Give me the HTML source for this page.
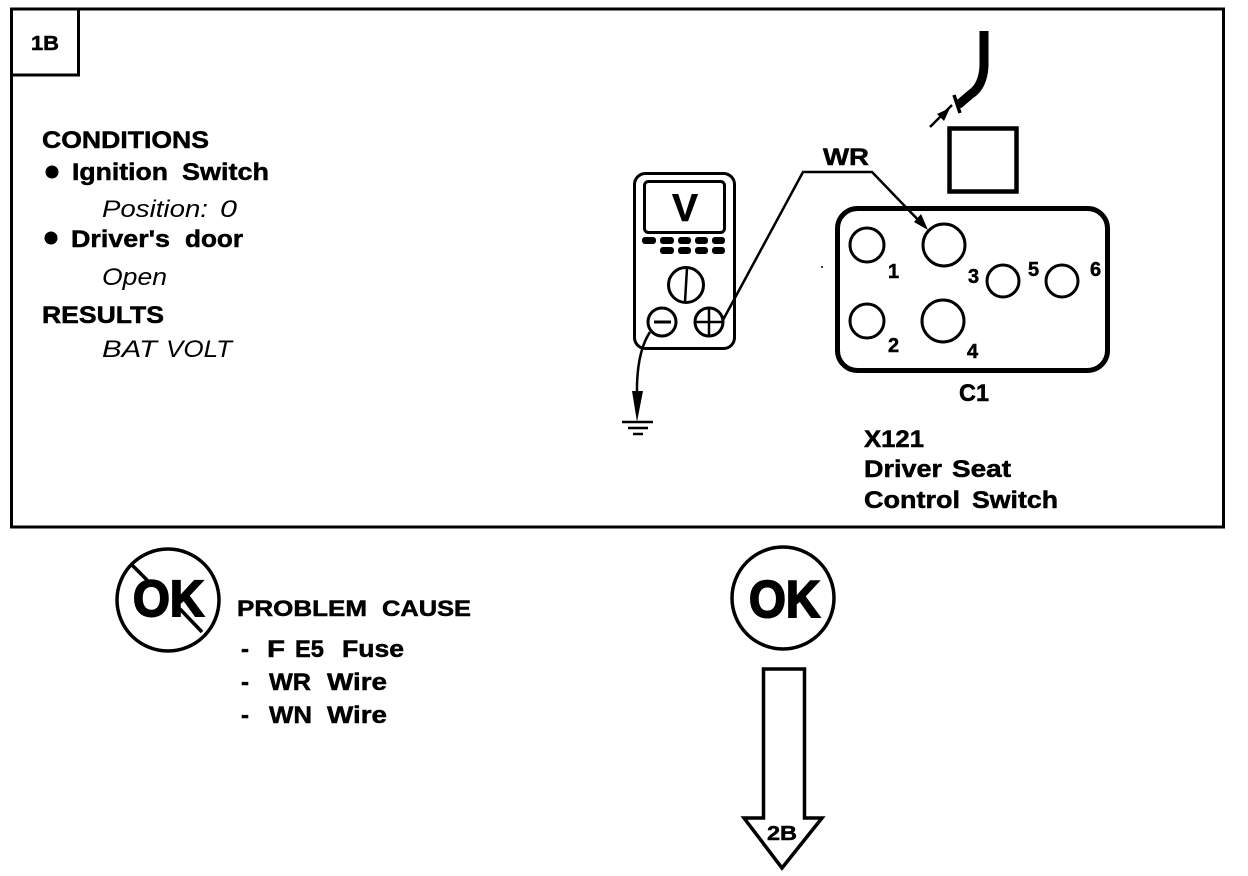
<!DOCTYPE html>
<html><head><meta charset="utf-8"><style>
html,body{margin:0;padding:0;background:#fff}
svg{display:block}
text{font-family:"Liberation Sans",sans-serif;fill:#000}
.b{font-weight:bold;stroke:#000;stroke-width:.5px}
.i{font-style:italic}
</style></head><body>
<svg width="1248" height="876" viewBox="0 0 1248 876" xmlns="http://www.w3.org/2000/svg">
<rect width="1248" height="876" fill="#fff"/>
<g fill="none" stroke="#000">
<rect x="11.5" y="9" width="1212" height="518" stroke-width="3"/>
<rect x="11.5" y="9" width="67" height="66" stroke-width="3"/>
<!-- meter -->
<rect x="634.5" y="173.5" width="100" height="175" rx="11" stroke-width="3"/>
<rect x="644.5" y="181.5" width="80" height="51" rx="4" stroke-width="3"/>
<circle cx="686" cy="285" r="17.5" stroke-width="3"/>
<line x1="687" y1="268" x2="685" y2="302" stroke-width="2.5"/>
<circle cx="662" cy="322" r="14" stroke-width="3"/>
<line x1="654" y1="322" x2="671" y2="322" stroke-width="3"/>
<circle cx="709" cy="322" r="14" stroke-width="3"/>
<line x1="695" y1="322" x2="723" y2="322" stroke-width="2.5"/>
<line x1="709" y1="308" x2="709" y2="336" stroke-width="2.5"/>
<!-- wires -->
<polyline points="723,320 803,172 872,172 925,227" stroke-width="2.5"/>
<path d="M650,332 Q638,350 637,385 L637,410" stroke-width="2.5"/>
<!-- connector -->
<rect x="837.5" y="208.5" width="270" height="162" rx="20" stroke-width="5"/>
<circle cx="867" cy="245" r="17" stroke-width="3"/>
<circle cx="944" cy="245" r="21" stroke-width="3"/>
<circle cx="867" cy="321" r="17" stroke-width="3"/>
<circle cx="943" cy="321" r="21" stroke-width="3"/>
<circle cx="1003" cy="281" r="16" stroke-width="3"/>
<circle cx="1062" cy="281" r="16" stroke-width="3"/>
<rect x="949.5" y="128.5" width="67" height="63" stroke-width="4.5"/>
<!-- harness -->
<path d="M984,31 L984,66 Q983,86 971,94 L958,105" stroke-width="9"/>
<line x1="930" y1="127" x2="952" y2="105" stroke-width="2.5"/>
<line x1="954" y1="95" x2="960" y2="113" stroke-width="3.5"/>
<!-- ground -->
<line x1="622" y1="422" x2="653" y2="422" stroke-width="2.5"/>
<line x1="628" y1="428" x2="648" y2="428" stroke-width="2.5"/>
<line x1="633" y1="434" x2="643" y2="434" stroke-width="2.5"/>
<!-- OK circles -->
<circle cx="168" cy="600" r="51" stroke-width="3.5"/>
<circle cx="783" cy="598" r="51" stroke-width="3.5"/>
<line x1="132" y1="565" x2="148" y2="581" stroke-width="3.5"/>
<line x1="180" y1="609" x2="202" y2="632" stroke-width="3.5"/>
<!-- big arrow -->
<polygon points="763.5,669 804.5,669 804.5,818 822,818 782,868 744,818 763.5,818" stroke-width="3.5" stroke-linejoin="miter"/>
</g>
<g fill="#000">
<polygon points="637,422 632,391 643,391"/>
<polygon points="928,230 914,222 921,214"/>
<polygon points="950,108 937,114 944,121"/>
<rect x="642" y="237" width="14" height="7" rx="3"/><rect x="660" y="237" width="14" height="7" rx="3"/><rect x="678" y="237" width="13" height="7" rx="3"/><rect x="695" y="237" width="13" height="7" rx="3"/><rect x="712" y="237" width="13" height="7" rx="3"/>
<rect x="660" y="247" width="14" height="7" rx="3"/><rect x="678" y="247" width="13" height="7" rx="3"/><rect x="695" y="247" width="13" height="7" rx="3"/><rect x="712" y="247" width="13" height="7" rx="3"/>
<circle cx="52" cy="172" r="6.5"/><circle cx="51" cy="238" r="6.5"/>
<circle cx="822" cy="267" r="1"/>
</g>
<g>
<text x="31" y="50" class="b" font-size="20" textLength="28" lengthAdjust="spacingAndGlyphs">1B</text>
<text x="42" y="148" class="b" font-size="24" textLength="167" lengthAdjust="spacingAndGlyphs">CONDITIONS</text>
<text x="72" y="180" class="b" font-size="24" textLength="96" lengthAdjust="spacingAndGlyphs">Ignition</text>
<text x="182" y="180" class="b" font-size="24" textLength="87" lengthAdjust="spacingAndGlyphs">Switch</text>
<text x="102" y="217" class="i" font-size="24" textLength="106" lengthAdjust="spacingAndGlyphs">Position:</text>
<text x="220" y="217" class="i" font-size="24" textLength="17" lengthAdjust="spacingAndGlyphs">0</text>
<text x="71" y="247" class="b" font-size="24" textLength="99" lengthAdjust="spacingAndGlyphs">Driver's</text>
<text x="185" y="247" class="b" font-size="24" textLength="58" lengthAdjust="spacingAndGlyphs">door</text>
<text x="102" y="285" class="i" font-size="24" textLength="65" lengthAdjust="spacingAndGlyphs">Open</text>
<text x="42" y="323" class="b" font-size="24" textLength="122" lengthAdjust="spacingAndGlyphs">RESULTS</text>
<text x="102" y="357" class="i" font-size="24" textLength="55" lengthAdjust="spacingAndGlyphs">BAT</text>
<text x="166" y="357" class="i" font-size="24" textLength="66" lengthAdjust="spacingAndGlyphs">VOLT</text>
<text x="672" y="221" class="b" font-size="39" stroke-width="1" textLength="26" lengthAdjust="spacingAndGlyphs">V</text>
<text x="823" y="165" class="b" font-size="24" textLength="46" lengthAdjust="spacingAndGlyphs">WR</text>
<text x="888" y="278" class="b" font-size="20">1</text>
<text x="968" y="283" class="b" font-size="20">3</text>
<text x="1028" y="276" class="b" font-size="20">5</text>
<text x="1090" y="276" class="b" font-size="20">6</text>
<text x="888" y="352" class="b" font-size="20">2</text>
<text x="967" y="358" class="b" font-size="20">4</text>
<text x="959" y="401" class="b" font-size="24" textLength="30" lengthAdjust="spacingAndGlyphs">C1</text>
<text x="864" y="447" class="b" font-size="24" textLength="60" lengthAdjust="spacingAndGlyphs">X121</text>
<text x="864" y="477" class="b" font-size="24" textLength="78" lengthAdjust="spacingAndGlyphs">Driver</text>
<text x="952" y="477" class="b" font-size="24" textLength="59" lengthAdjust="spacingAndGlyphs">Seat</text>
<text x="864" y="508" class="b" font-size="24" textLength="96" lengthAdjust="spacingAndGlyphs">Control</text>
<text x="972" y="508" class="b" font-size="24" textLength="86" lengthAdjust="spacingAndGlyphs">Switch</text>
<text x="133" y="616" style="stroke-width:2px" class="b" font-size="51" textLength="71" lengthAdjust="spacingAndGlyphs">OK</text>
<text x="749" y="617" style="stroke-width:2px" class="b" font-size="52" textLength="71" lengthAdjust="spacingAndGlyphs">OK</text>
<text x="237" y="616" class="b" font-size="22" textLength="130" lengthAdjust="spacingAndGlyphs">PROBLEM</text>
<text x="382" y="616" class="b" font-size="22" textLength="89" lengthAdjust="spacingAndGlyphs">CAUSE</text>
<text x="241" y="657" class="b" font-size="24">-</text>
<text x="267" y="657" class="b" font-size="24" textLength="18" lengthAdjust="spacingAndGlyphs">F</text>
<text x="295" y="657" class="b" font-size="24" textLength="29" lengthAdjust="spacingAndGlyphs">E5</text>
<text x="342" y="657" class="b" font-size="24" textLength="62" lengthAdjust="spacingAndGlyphs">Fuse</text>
<text x="241" y="690" class="b" font-size="24">-</text>
<text x="269" y="690" class="b" font-size="24" textLength="42" lengthAdjust="spacingAndGlyphs">WR</text>
<text x="327" y="690" class="b" font-size="24" textLength="60" lengthAdjust="spacingAndGlyphs">Wire</text>
<text x="241" y="723" class="b" font-size="24">-</text>
<text x="269" y="723" class="b" font-size="24" textLength="43" lengthAdjust="spacingAndGlyphs">WN</text>
<text x="327" y="723" class="b" font-size="24" textLength="60" lengthAdjust="spacingAndGlyphs">Wire</text>
<text x="767" y="840" class="b" font-size="20" textLength="30" lengthAdjust="spacingAndGlyphs">2B</text>
</g>
</svg>
</body></html>
